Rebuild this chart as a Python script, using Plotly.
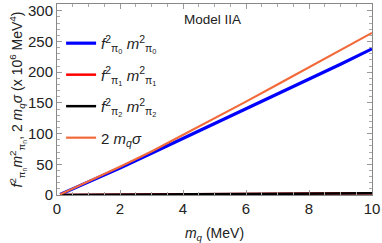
import plotly.graph_objects as go

# data (values in 10^6 MeV^4)
mq = [0.1, 1, 2, 3, 4, 5, 6, 7, 8, 9, 10]
f0m0 = [1, 21, 44, 68, 92, 116, 140, 164, 189, 213, 238]
f1m1 = [0.0, 0.3, 0.6, 0.9, 1.2, 1.5, 1.8, 2.1, 2.4, 2.7, 3.0]
f2m2 = [0.0, 0.2, 0.5, 0.8, 1.0, 1.3, 1.6, 1.9, 2.1, 2.4, 2.7]
two_mq_sigma = [1, 22, 46, 71, 98, 124, 152, 180, 208, 236, 264]

names = [
    "<i>f</i><sup>2</sup><sub>π<sub>0</sub></sub> <i>m</i><sup>2</sup><sub>π<sub>0</sub></sub>",
    "<i>f</i><sup>2</sup><sub>π<sub>1</sub></sub> <i>m</i><sup>2</sup><sub>π<sub>1</sub></sub>",
    "<i>f</i><sup>2</sup><sub>π<sub>2</sub></sub> <i>m</i><sup>2</sup><sub>π<sub>2</sub></sub>",
    "2 <i>m<sub>q</sub>σ</i>",
]
colors = ["#0000FF", "#FF0000", "#000000", "#F26A3A"]
widths = [3.2, 2.5, 2.5, 2.2]
series = [f0m0, f1m1, f2m2, two_mq_sigma]

fig = go.Figure()
for i, (nm, c, w, ys) in enumerate(zip(names, colors, widths, series)):
    fig.add_trace(go.Scatter(x=mq, y=ys, mode="lines", name=nm,
                             line=dict(color=c, width=w), legendgroup=str(i)))

font = "Liberation Sans, Arial, sans-serif"
axcommon = dict(
    showline=True, linecolor="#888", linewidth=1, mirror="ticks",
    ticks="inside", ticklen=5, tickcolor="#999", showgrid=False, zeroline=False,
    tickfont=dict(size=15, color="#222", family=font),
    ticklabeloverflow="allow",
)
fig.update_xaxes(range=[0, 10], tickvals=[0, 2, 4, 6, 8, 10],
                 minor=dict(ticks="inside", ticklen=3, tickcolor="#aaa", dtick=0.5),
                 title=dict(text="<i>m<sub>q</sub></i> (MeV)", font=dict(size=14, color="#222", family=font), standoff=12),
                 **axcommon)
fig.update_yaxes(range=[0, 311], tickvals=[0, 50, 100, 150, 200, 250, 300],
                 minor=dict(ticks="inside", ticklen=3, tickcolor="#aaa", dtick=10),
                 title=dict(text="<i>f</i><sup>2</sup><sub>π<sub>n</sub></sub><i>m</i><sup>2</sup><sub>π<sub>n</sub></sub>, 2 <i>m<sub>q</sub>σ</i> (x 10<sup>6</sup> MeV<sup>4</sup>)",
                            font=dict(size=14, color="#222", family=font), standoff=2),
                 **axcommon)

fig.add_annotation(text="Model IIA", x=0.494, y=0.917, xref="paper", yref="paper",
                   xanchor="center", yanchor="middle",
                   showarrow=False, font=dict(size=13.5, color="#222", family=font))

fig.update_layout(
    width=382, height=243,
    margin=dict(l=57, r=9, t=2, b=48),
    paper_bgcolor="white", plot_bgcolor="white",
    showlegend=True,
    legend=dict(x=0.013, y=0.88, xanchor="left", yanchor="top", bgcolor="rgba(0,0,0,0)",
                font=dict(size=15, color="#222", family=font), tracegroupgap=9,
                itemwidth=30),
)

fig.write_html("out.html", config={"displayModeBar": False},
               post_script="document.body.style.margin='0';")
